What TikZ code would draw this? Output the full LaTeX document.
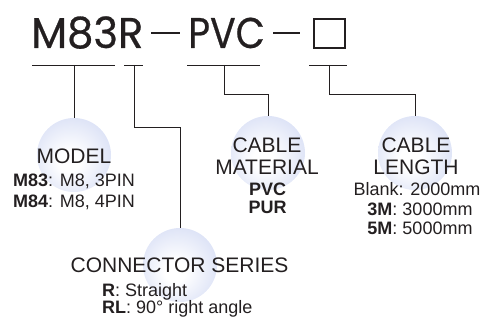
\documentclass[tikz,border=0pt]{standalone}
\usepackage{fontspec}
\setmainfont{Liberation Sans}
\newfontfamily\codefont[FakeBold=0.6]{Poppins}
\usepackage{tikz}
\usetikzlibrary{positioning}
\usepackage{xcolor}
\definecolor{ink}{RGB}{35,31,32}
\definecolor{haze}{RGB}{220,226,246}

\pgfdeclareradialshading{glow}{\pgfpoint{-4bp}{-5bp}}{color(0bp)=(white); color(7bp)=(white); color(29bp)=(haze); color(50bp)=(haze)}

\tikzset{
	wire/.style={draw=ink, line width=0.9pt},
	bubble/.style={circle, minimum size=74pt, inner sep=0pt, shade, shading=glow},
	codetext/.style={font=\codefont\fontsize{43}{46}\selectfont, text=ink, inner sep=0pt, anchor=base west},
	head/.style={font=\fontsize{21}{24}\selectfont, text=ink, inner sep=0pt, anchor=base},
	sub/.style={font=\fontsize{18}{20}\selectfont, text=ink, inner sep=0pt, anchor=base},
}

\begin{document}
\begin{tikzpicture}[x=1pt, y=-1pt]
	\useasboundingbox (0,0) rectangle (486,320);

	% The part number.
	\node[codetext] (series) at (31,48) {\scalebox{0.97}[1]{M83R}};
	\node[codetext] (material) at (188,48) {\scalebox{0.88}[1]{PVC}};
	\node[draw=ink, line width=2pt, minimum width=31pt, minimum height=29pt, inner sep=0pt] (lenbox) at (329.5,33.5) {};
	\draw [ink, line width=1.8pt] (151,33) -- (180,33);
	\draw [ink, line width=1.8pt] (273,33) -- (300,33);

	% Underline each field.
	\draw [wire] (32,65) -- (115,65);
	\draw [wire] (124,65) -- (143,65);
	\draw [wire] (187,65) -- (260,65);
	\draw [wire] (309,65) -- (347,65);
	\coordinate (tapmodel) at (74,65);
	\coordinate (tapser) at (134,65);
	\coordinate (tapmat) at (224,65);
	\coordinate (taplen) at (329,65);

	% Bubbles behind the captions.
	\node[bubble] (model) at (74,155) {};
	\node[bubble] (conn) at (180,265) {};
	\node[bubble] (mat) at (268,153) {};
	\node[bubble] (len) at (415,153) {};

	% Leaders from the fields down to the bubbles.
	\draw [wire] (tapmodel) -- (model.north);
	\draw [wire] (tapser) -- ++(0,62) -| (conn.north);
	\draw [wire] (tapmat) -- ++(0,29) -| (mat.north);
	\draw [wire] (taplen) -- ++(0,29) -| (len.north);

	% Captions.
	\node[head] (modelhead) at (74,164) {MODEL};
	\node[sub] (m83) at (74,186.5) {\textbf{M83}: M8, 3PIN};
	\node[sub] (m84) at (74,207) {\textbf{M84}: M8, 4PIN};

	\node[head] (connhead) at (179.5,272) {CONNECTOR SERIES};
	\node[sub, anchor=base west] (rstr) at (102,296) {\textbf{R}: Straight};
	\node[sub, anchor=base west] (rlang) at (102,313) {\textbf{RL}: 90° right angle};

	\node[head] (mathead) at (267,153) {CABLE};
	\node[head] (mathead2) at (267,175) {MATERIAL};
	\node[sub] (pvc) at (267.5,195) {\textbf{PVC}};
	\node[sub] (pur) at (267.5,213) {\textbf{PUR}};

	\node[head] (lenhead) at (416,153) {CABLE};
	\node[head] (lenhead2) at (416,175) {LENGTH};
	\node[sub] (blank) at (417,196) {Blank: 2000mm};
	\node[sub] (three) at (420,215) {\textbf{3M}: 3000mm};
	\node[sub] (five) at (420,234) {\textbf{5M}: 5000mm};
\end{tikzpicture}
\end{document}
